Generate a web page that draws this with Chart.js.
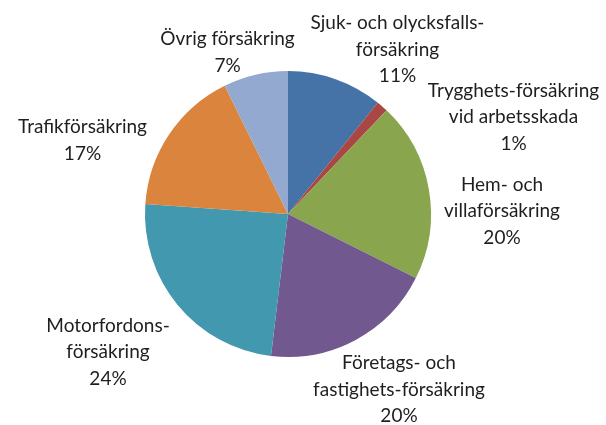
<!DOCTYPE html>
<html>
<head>
<meta charset="utf-8">
<script src="https://cdn.jsdelivr.net/npm/chart.js@4/dist/chart.umd.min.js"></script>
<style>
  html, body { margin: 0; padding: 0; background: #fff; }
  #wrap { width: 606px; height: 425px; position: relative; }
</style>
</head>
<body>
<div id="wrap"><canvas id="c" width="606" height="425"></canvas></div>
<script>
// Categories (label lines) and values (percent share)
const categories = [
  ["Sjuk- och olycksfalls-", "försäkring"],
  ["Trygghets-försäkring", "vid arbetsskada"],
  ["Hem- och", "villaförsäkring"],
  ["Företags- och", "fastighets-försäkring"],
  ["Motorfordons-", "försäkring"],
  ["Trafikförsäkring"],
  ["Övrig försäkring"]
];
const values = [10.8, 1.3, 20.3, 19.5, 24.2, 16.6, 7.3];
const percentLabels = ["11%", "1%", "20%", "20%", "24%", "17%", "7%"];
const colors = ["#4572A7", "#AA4643", "#89A54E", "#71588F", "#4198AF", "#DB843D", "#93A9CF"];

// Label placement relative to the pie centre (px): [centre x offset, first baseline offset]
const labelPlacement = [
  [109.5, -185],
  [225.5, -117.5],
  [214, -23.5],
  [111, 155],
  [-180, 117.5],
  [-205.5, -81],
  [-60.5, -169]
];

const labelPlugin = {
  id: 'outerLabels',
  afterDatasetsDraw(chart) {
    const ctx = chart.ctx;
    const arc = chart.getDatasetMeta(0).data[0];
    const cx = arc.x, cy = arc.y;
    const lh = 26.5;
    ctx.save();
    ctx.font = '19px Lato, "Open Sans", sans-serif';
    ctx.fillStyle = '#1e1e1e';
    ctx.textAlign = 'center';
    ctx.textBaseline = 'alphabetic';
    categories.forEach((lines, i) => {
      const [ox, oy] = labelPlacement[i];
      const all = lines.concat([percentLabels[i]]);
      all.forEach((t, k) => {
        ctx.fillText(t, cx + ox, cy + oy + k * lh);
      });
    });
    ctx.restore();
  }
};

new Chart(document.getElementById('c'), {
  type: 'pie',
  data: {
    labels: categories.map(l => l.join(' ')),
    datasets: [{
      data: values,
      backgroundColor: colors,
      borderWidth: 0
    }]
  },
  options: {
    responsive: false,
    animation: false,
    rotation: 0,
    layout: { padding: { top: 71, bottom: 68, left: 145, right: 175 } },
    plugins: {
      legend: { display: false },
      tooltip: { enabled: false }
    }
  },
  plugins: [labelPlugin]
});
</script>
</body>
</html>
